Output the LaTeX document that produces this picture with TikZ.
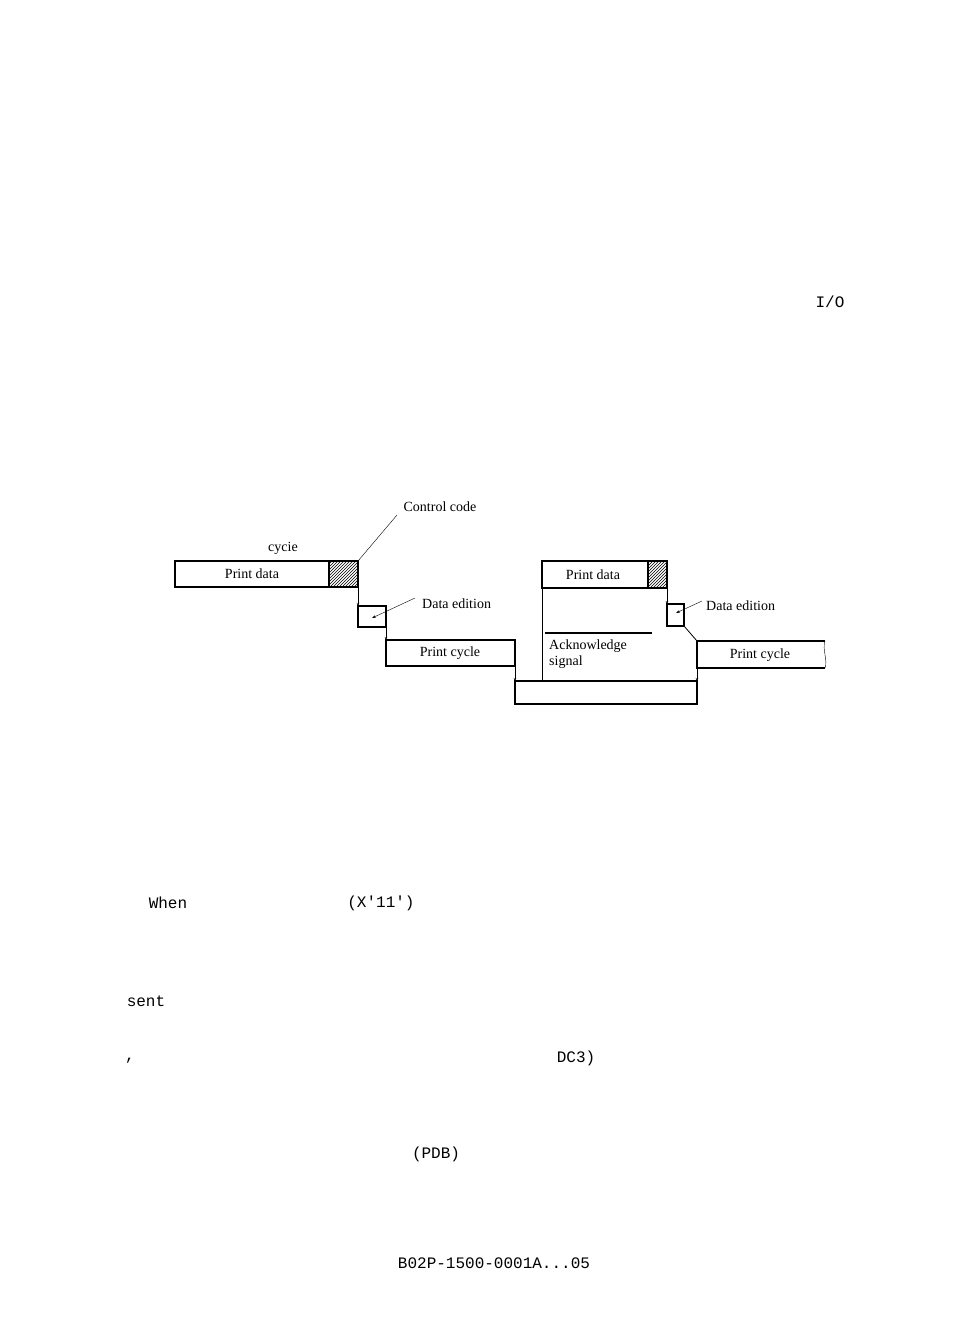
\documentclass[tikz,border=0pt]{standalone}
\usepackage{fontspec}
\setmainfont{Liberation Serif}
\newfontfamily\typefont{Liberation Mono}
\usetikzlibrary{patterns,arrows.meta}
\tikzset{
  bar/.style={draw, line width=1.1pt, fill=white},
  hatch/.style={draw, line width=1.1pt, pattern=north east lines},
  tick/.style={line width=0.8pt, -{Stealth[length=3pt,width=2.5pt]}},
  lbl/.style={inner sep=0pt, font=\fontsize{14}{16}\selectfont},
  doc/.style={inner sep=0pt, font=\typefont\fontsize{16}{18}\selectfont},
}
\begin{document}
\begin{tikzpicture}[x=1pt, y=-1pt]
    \useasboundingbox[fill=white] (0,0) rectangle (954,1343);

    % left half
    \draw[bar] (175,561) rectangle (358,587);
    \draw[hatch] (329,561) rectangle (358,587);
    \node[lbl] (pd1) at (252,574) {Print data};
    \node[lbl] (cyc) at (283,548) {cycie};
    \draw[bar] (358,606) rectangle (386,627);
    \draw[bar] (386,640) rectangle (515,666);
    \node[lbl] (pc1) at (450,653) {Print cycle};
    \draw[tick] (358,587) -- (358,606);
    \draw[tick] (386,627) -- (386,640);
    \draw[tick] (515,666) -- (515,681);

    \node[lbl] (cc) at (440,507) {Control code};
    \coordinate (ccend) at (358,561);
    \draw (ccend) -- (397,515);
    \node[lbl, anchor=west] (de1) at (422,604) {Data edition};
    \draw[{Stealth[length=4pt,width=2.5pt]}-] (372,618) -- (415,598);

    % acknowledge
    \draw[line width=1.1pt] (515,681) rectangle (697,704);
    \draw[bar] (542,561) rectangle (667,588);
    \draw[hatch] (648,561) rectangle (667,588);
    \node[lbl] (pd2) at (593,575) {Print data};
    \draw (542,588) -- (542,681);
    \draw[line width=1.1pt] (545,633) -- (652,633);
    \node[lbl, anchor=west, align=left] (ack) at (549,654) {Acknowledge\\signal};

    % right half
    \draw[bar] (667,604) rectangle (684,626);
    \draw[tick] (667,588) -- (667,604);
    \draw[line width=0.8pt] (684,626) -- (697,641);
    \draw[line width=1.1pt] (825,641) -- (697,641) -- (697,668) -- (825,668);
    \draw (825,641) .. controls (822,650) and (828,660) .. (825,668);
    \node[lbl] (pc2) at (760,655) {Print cycle};
    \draw[tick] (697,668) -- (697,681);
    \node[lbl, anchor=west] (de2) at (706,606) {Data edition};
    \draw[{Stealth[length=4pt,width=2.5pt]}-] (676,613) -- (702,601);

    % page fragments
    \node[doc] (io) at (830,302) {I/O};
    \node[doc] (when) at (168,903) {When};
    \node[doc] (xcode) at (381,903) {(X'11')};
    \node[doc] (sent) at (146,1001) {sent};
    \node[doc] (comma) at (130,1061) {,};
    \node[doc] (dc) at (576,1058) {DC3)};
    \node[doc] (pdb) at (436,1154) {(PDB)};
    \node[doc] (ref) at (494,1263) {B02P-1500-0001A...05};
\end{tikzpicture}
\end{document}
